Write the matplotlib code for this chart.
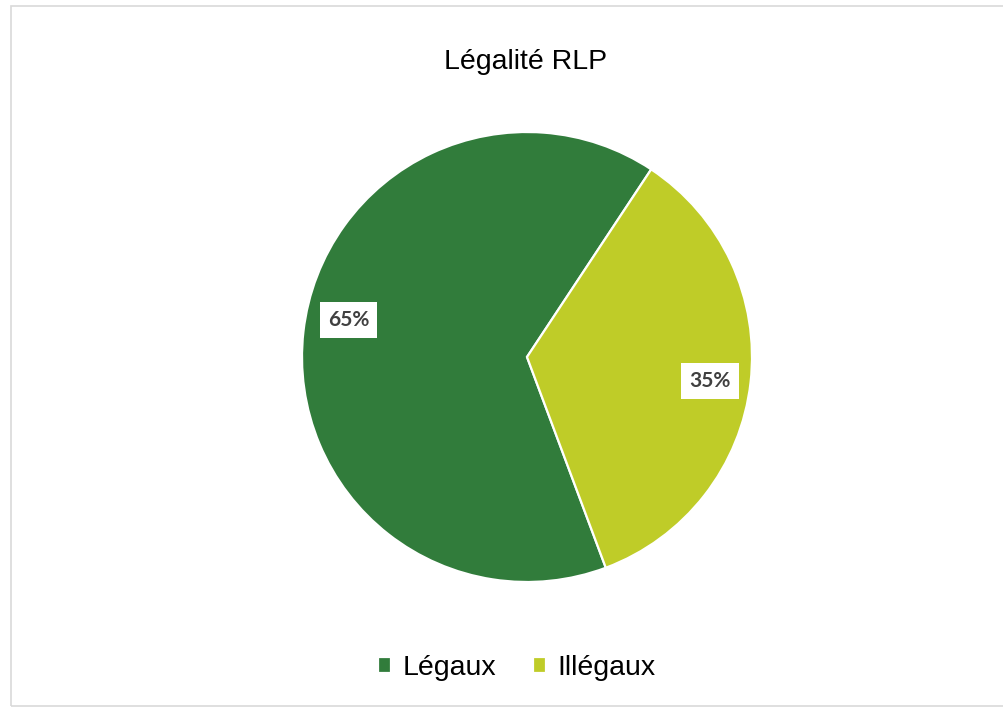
import numpy as np
import matplotlib.pyplot as plt
from matplotlib.patches import Rectangle

# --- Dados ---
categorias = ['Légaux', 'Illégaux']
valores = [65, 35]
cores = ['#317C3B', '#BFCC28']
titulo = 'Légalité RLP'

plt.rcParams['font.family'] = ['Liberation Sans', 'DejaVu Sans']

fig = plt.figure(figsize=(10.04, 7.08), dpi=100)
W, H = 1004, 708

# moldura cinza clara do gráfico
fig.patches.append(Rectangle((11 / W, 1 - 706 / H), (1010 - 11) / W, (706 - 6) / H,
                             transform=fig.transFigure, fill=False,
                             edgecolor='#D9D9D9', linewidth=1.2))

# eixo da pizza: centro (527, 357), raio 225 px
cx, cy, r = 527, 357, 225
ax = fig.add_axes([(cx - r) / W, 1 - (cy + r) / H, 2 * r / W, 2 * r / H])

wedges, textos, autotextos = ax.pie(
    valores, colors=cores, startangle=56.5, counterclock=True,
    autopct='%1.0f%%', pctdistance=0.815, radius=1,
    wedgeprops=dict(edgecolor='white', linewidth=1.6))

# posição dos rótulos (ângulo em graus, distância relativa ao raio) como no Excel
posicoes_rotulos = [(168.3, 0.81), (-7.5, 0.82)]
for t, (ang, dist) in zip(autotextos, posicoes_rotulos):
    t.set_position((dist * np.cos(np.radians(ang)), dist * np.sin(np.radians(ang))))
    t.set_fontfamily(['Lato', 'DejaVu Sans'])
    t.set_fontweight('bold')
    t.set_fontsize(15)
    t.set_color('#404040')
    t.set_bbox(dict(boxstyle='square,pad=0.38', facecolor='white', edgecolor='none'))

ax.set_xlim(-1, 1)
ax.set_ylim(-1, 1)
ax.set_aspect('equal')
ax.axis('off')

fig.text(526 / W, 1 - 62 / H, titulo, ha='center', va='center', fontsize=20.5, color='black')

fig.legend(wedges, categorias, loc='center', bbox_to_anchor=(517 / W, 1 - 668 / H),
           ncol=2, frameon=False, fontsize=20.5, handlelength=0.45, handleheight=0.45,
           handletextpad=0.4, columnspacing=1.3)

plt.savefig('out.png', dpi=100)
